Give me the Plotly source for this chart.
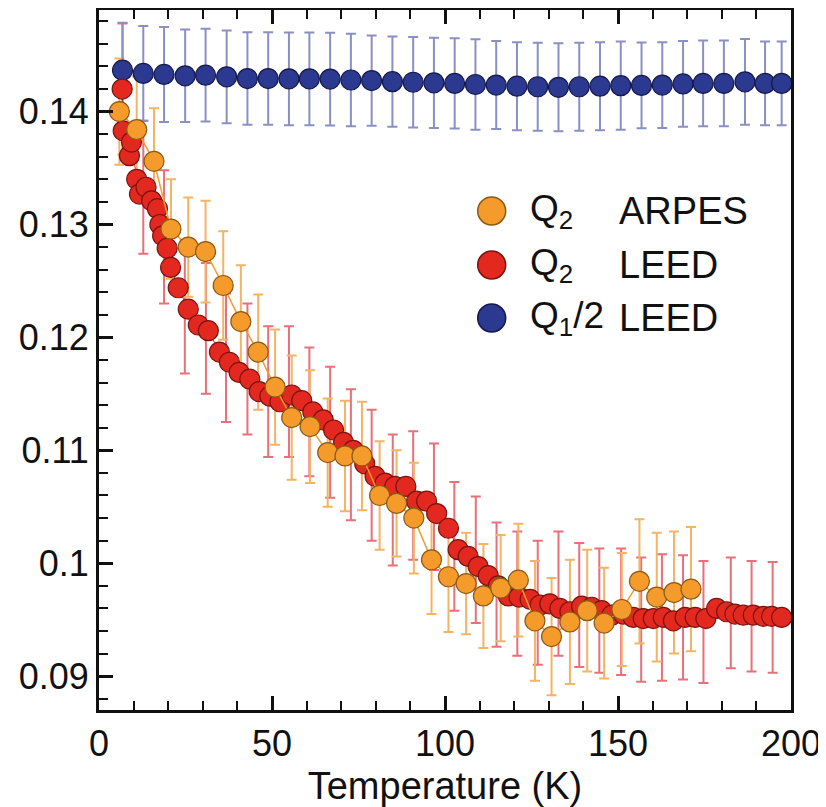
import plotly.graph_objects as go

# ---------------- data ----------------
T_ARPES = [5.9, 10.9, 15.9, 20.8, 25.8, 30.8, 35.9, 41.0, 46.0, 50.9, 55.7, 61.0, 66.1, 71.1,
           76.0, 81.1, 86.0, 91.0, 96.1, 101.0, 106.1, 111.1, 116.1, 121.2, 126.0, 130.8,
           136.1, 141.1, 146.0, 151.1, 156.2, 161.2, 166.2, 171.1]
Q_ARPES = [0.1400, 0.1384, 0.1356, 0.1296, 0.1280, 0.1276, 0.1246, 0.1214, 0.1187, 0.1156,
           0.1129, 0.1121, 0.1098, 0.1095, 0.1095, 0.1060, 0.1053, 0.1040, 0.1003, 0.0988,
           0.0982, 0.0971, 0.0978, 0.0985, 0.0949, 0.0935, 0.0948, 0.0958, 0.0947, 0.0959,
           0.0984, 0.0970, 0.0974, 0.0977]
ERR_ARPES = [0.0047, 0.0047, 0.0047, 0.0044, 0.0044, 0.0045, 0.0048, 0.0050, 0.0051, 0.0051,
             0.0055, 0.0050, 0.0048, 0.0049, 0.0048, 0.0048, 0.0047, 0.0049, 0.0048, 0.0049,
             0.0045, 0.0046, 0.0047, 0.0050, 0.0053, 0.0052, 0.0055, 0.0054, 0.0049, 0.0050,
             0.0055, 0.0057, 0.0054, 0.0055]

T_LEED = [6.7, 7.0, 8.8, 9.4, 10.9, 11.7, 13.6, 15.2, 16.9, 17.6, 18.4, 19.7, 20.7, 22.9,
          25.8, 28.7, 31.6, 34.8, 37.7, 40.5, 43.6, 46.3, 49.4, 52.3, 55.7, 58.6, 61.8, 64.8,
          67.8, 70.7, 73.5, 76.8, 79.8, 82.7, 85.5, 88.7, 91.8, 94.7, 97.6, 101.0, 103.8,
          106.7, 109.6, 112.5, 115.4, 118.3, 121.4, 124.6, 127.5, 130.3, 133.2, 136.1, 139.5,
          142.4, 145.3, 148.2, 151.5, 154.4, 157.3, 160.2, 163.1, 166.0, 169.4, 172.3, 175.4,
          178.5, 181.4, 183.8, 186.2, 189.1, 192.0, 194.4, 197.3]
Q2_LEED = [0.1420, 0.1383, 0.1361, 0.1373, 0.1340, 0.1327, 0.1333, 0.1321, 0.1314, 0.1300,
           0.1290, 0.1279, 0.1262, 0.1244, 0.1225, 0.1211, 0.1206, 0.1187, 0.1178, 0.1169,
           0.1163, 0.1152, 0.1148, 0.1143, 0.1149, 0.1144, 0.1134, 0.1127, 0.1118, 0.1107,
           0.1100, 0.1088, 0.1077, 0.1071, 0.1068, 0.1068, 0.1055, 0.1055, 0.1044, 0.1031,
           0.1012, 0.1006, 0.0997, 0.0989, 0.0980, 0.0971, 0.0970, 0.0968, 0.0963, 0.0964,
           0.0960, 0.0957, 0.0962, 0.0961, 0.0958, 0.0954, 0.0955, 0.0952, 0.0951, 0.0951,
           0.0952, 0.0949, 0.0952, 0.0952, 0.0951, 0.0960, 0.0957, 0.0955, 0.0954, 0.0954,
           0.0953, 0.0953, 0.0952]

# error bars of the LEED Q2 data (drawn at every other point)
T_LEED_ERR = [6.8, 12.8, 18.8, 24.8, 30.9, 36.7, 42.9, 48.9, 54.9, 60.8, 66.8, 72.8, 78.8,
              84.9, 90.8, 96.8, 102.7, 108.9, 114.9, 120.9, 126.8, 132.8, 138.8, 144.6,
              150.9, 156.7, 162.7, 168.8, 174.7, 182.6, 188.6, 194.7]
Q2_LEED_ERRC = [0.1420, 0.1333, 0.1289, 0.1227, 0.1208, 0.1182, 0.1172, 0.1152, 0.1152,
                0.1134, 0.1116, 0.1096, 0.1078, 0.1056, 0.1060, 0.1050, 0.1015, 0.1003,
                0.0981, 0.0973, 0.0965, 0.0973, 0.0963, 0.0958, 0.0957, 0.0950, 0.0952,
                0.0952, 0.0948, 0.0956, 0.0953, 0.0952]
ERR_LEED = [0.0058, 0.0059, 0.0059, 0.0059, 0.0058, 0.0057, 0.0058, 0.0058, 0.0058, 0.0057,
            0.0058, 0.0058, 0.0058, 0.0058, 0.0057, 0.0056, 0.0057, 0.0056, 0.0055, 0.0055,
            0.0055, 0.0055, 0.0055, 0.0055, 0.0056, 0.0055, 0.0056, 0.0055, 0.0054, 0.0049,
            0.0049, 0.0049]

T_Q1 = [6.8, 12.8, 18.8, 24.9, 30.8, 36.9, 42.9, 48.9, 54.9, 60.8, 66.8, 72.8, 78.8, 84.8,
        90.8, 96.8, 102.8, 108.8, 114.8, 120.8, 126.8, 132.8, 138.8, 144.8, 150.8, 156.8,
        162.8, 168.8, 174.6, 180.6, 186.7, 192.5, 197.3]
Q1_HALF = [0.14367, 0.14338, 0.14329, 0.14317, 0.14323, 0.14308, 0.14293, 0.14293, 0.14290,
           0.14290, 0.14288, 0.14280, 0.14275, 0.14265, 0.14260, 0.14255, 0.14250, 0.14240,
           0.14235, 0.14225, 0.14220, 0.14215, 0.14220, 0.14225, 0.14230, 0.14232, 0.14235,
           0.14245, 0.14250, 0.14250, 0.14264, 0.14250, 0.14250]
ERR_Q1 = [0.0042, 0.0042, 0.0042, 0.0041, 0.0041, 0.0041, 0.0041, 0.0041, 0.0041, 0.0041,
          0.0041, 0.0041, 0.0040, 0.0040, 0.0040, 0.0040, 0.0040, 0.0040, 0.0039, 0.0039,
          0.0039, 0.0039, 0.0039, 0.0039, 0.0039, 0.0038, 0.0038, 0.0038, 0.0038, 0.0038,
          0.0038, 0.0037, 0.0037]

X_TICKS = [0, 50, 100, 150, 200]
Y_TICKS = [0.09, 0.10, 0.11, 0.12, 0.13, 0.14]
Y_TICKTEXT = ["0.09", "0.1", "0.11", "0.12", "0.13", "0.14"]

LEGEND_SYMBOL = ["Q<sub>2</sub>", "Q<sub>2</sub>", "Q<sub>1</sub>/2"]
LEGEND_METHOD = ["ARPES", "LEED", "LEED"]

# ---------------- style ----------------
ORANGE, ORANGE_EDGE, ORANGE_ERR = "#F59B2B", "#8C5A14", "#F4B365"
RED, RED_EDGE, RED_ERR = "#E3281F", "#7A1410", "#E96F79"
BLUE, BLUE_EDGE, BLUE_ERR = "#2B3990", "#15194A", "#8A90C4"
FONT = "Liberation Sans, Arial, Helvetica, sans-serif"
MS = 20

# the page body has an 8 px margin, so the figure is offset by 8 px on the page
PAGE_OFF = 8
W, H = 826 - PAGE_OFF, 807 - PAGE_OFF
# plot area in figure pixels
L, R, T, B = 99 - PAGE_OFF, 791 - PAGE_OFF, 10 - PAGE_OFF, 710 - PAGE_OFF


def px_x(p):  # page pixel -> paper x
    return (p - PAGE_OFF - L) / (R - L)


def px_y(p):  # page pixel -> paper y
    return (B - (p - PAGE_OFF)) / (B - T)


fig = go.Figure()

# error bars first, so that all markers sit on top
fig.add_trace(go.Scatter(
    x=T_LEED_ERR, y=Q2_LEED_ERRC, mode="markers",
    marker=dict(size=1, color="rgba(0,0,0,0)"),
    error_y=dict(type="data", array=ERR_LEED, visible=True, color=RED_ERR, thickness=2, width=5),
    hoverinfo="skip", showlegend=False))
fig.add_trace(go.Scatter(
    x=T_ARPES, y=Q_ARPES, mode="markers",
    marker=dict(size=1, color="rgba(0,0,0,0)"),
    error_y=dict(type="data", array=ERR_ARPES, visible=True, color=ORANGE_ERR, thickness=2, width=5),
    hoverinfo="skip", showlegend=False))
fig.add_trace(go.Scatter(
    x=T_Q1, y=Q1_HALF, mode="markers",
    marker=dict(size=1, color="rgba(0,0,0,0)"),
    error_y=dict(type="data", array=ERR_Q1, visible=True, color=BLUE_ERR, thickness=2, width=5),
    hoverinfo="skip", showlegend=False))

# markers
fig.add_trace(go.Scatter(
    x=T_Q1, y=Q1_HALF, mode="markers", name="Q1/2 LEED",
    marker=dict(size=MS, color=BLUE, line=dict(color=BLUE_EDGE, width=1.2)),
    showlegend=False))
fig.add_trace(go.Scatter(
    x=T_LEED, y=Q2_LEED, mode="lines+markers", name="Q2 LEED",
    line=dict(color=RED, width=1),
    marker=dict(size=MS, color=RED, line=dict(color=RED_EDGE, width=1.2)),
    showlegend=False))
fig.add_trace(go.Scatter(
    x=T_ARPES, y=Q_ARPES, mode="lines+markers", name="Q2 ARPES",
    line=dict(color=ORANGE, width=1.5),
    marker=dict(size=MS, color=ORANGE, line=dict(color=ORANGE_EDGE, width=1.2)),
    showlegend=False))

# hand-made legend (large symbols as in the reference)
legend_rows_px = [211, 265, 318]
legend_colors = [(ORANGE, ORANGE_EDGE), (RED, RED_EDGE), (BLUE, BLUE_EDGE)]
r = 14
for (fill, edge), py, sym, meth in zip(legend_colors, legend_rows_px, LEGEND_SYMBOL, LEGEND_METHOD):
    cx = 491.7
    fig.add_shape(type="circle", xref="paper", yref="paper",
                  x0=px_x(cx - r), x1=px_x(cx + r), y0=px_y(py + r), y1=px_y(py - r),
                  fillcolor=fill, line=dict(color=edge, width=1.5))
    fig.add_annotation(xref="paper", yref="paper", x=px_x(528), y=px_y(py),
                       xanchor="left", yanchor="middle", text=sym, showarrow=False,
                       font=dict(family=FONT, size=37, color="#111"))
    fig.add_annotation(xref="paper", yref="paper", x=px_x(617), y=px_y(py),
                       xanchor="left", yanchor="middle", text=meth, showarrow=False,
                       font=dict(family=FONT, size=38, color="#111"))

axis_common = dict(showgrid=False, zeroline=False, showline=True, linecolor="#111",
                   linewidth=3, ticks="inside", tickcolor="#111", tickwidth=2.5, ticklen=14)

fig.update_xaxes(range=[0, 200], tickvals=X_TICKS, mirror="ticks",
                 minor=dict(dtick=10, ticks="inside", ticklen=9, tickwidth=2, tickcolor="#111"),
                 tickfont=dict(family=FONT, size=36, color="#111"),
                 title=dict(text="Temperature (K)", font=dict(family=FONT, size=38, color="#111"),
                            standoff=14),
                 automargin=False, **axis_common)
fig.update_yaxes(range=[0.087, 0.149], tickvals=Y_TICKS, ticktext=Y_TICKTEXT, mirror=True,
                 minor=dict(dtick=0.002, tick0=0.09, ticks="inside", ticklen=9, tickwidth=2,
                            tickcolor="#111"),
                 tickfont=dict(family=FONT, size=36, color="#111"),
                 automargin=False, **axis_common)

fig.update_layout(width=W, height=H, margin=dict(l=L, r=W - R, t=T, b=H - B),
                  plot_bgcolor="white", paper_bgcolor="white", showlegend=False)

fig.write_html("out.html")
